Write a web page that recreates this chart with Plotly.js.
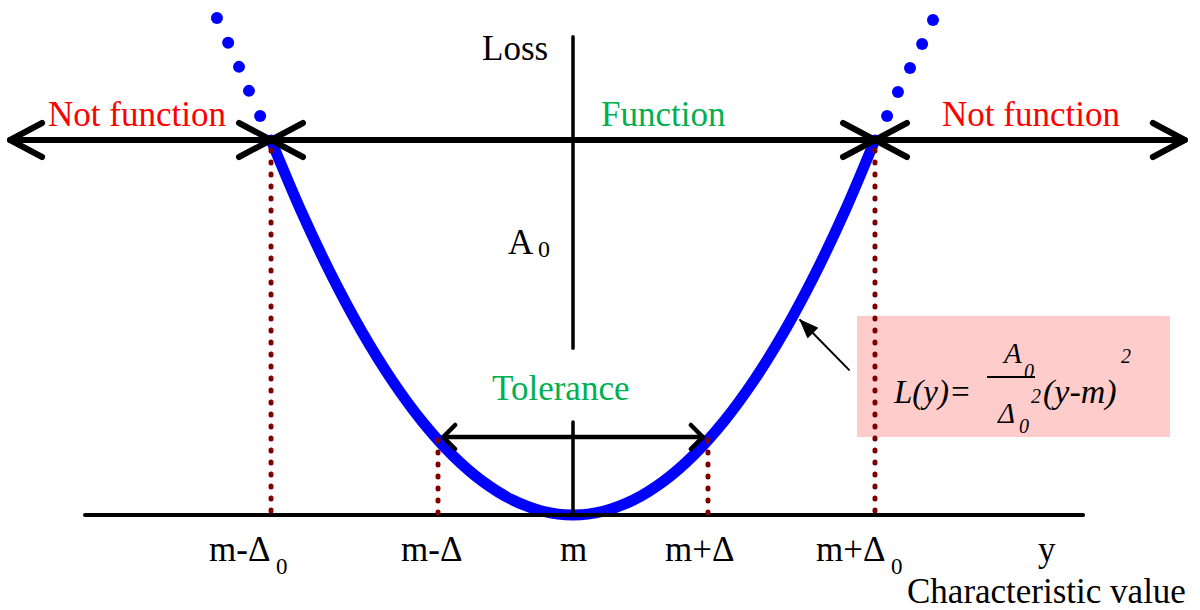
<!DOCTYPE html>
<html><head><meta charset="utf-8">
<script src="https://cdn.plot.ly/plotly-3.0.1.min.js"></script>
<style>
html,body{margin:0;padding:0;background:#fff;}
#chart{width:1200px;height:610px;}
#chart path.js-line{stroke-linecap:round !important;stroke-linejoin:round !important;}
</style></head><body><div id="chart"></div>
<script>
// Quality loss function: x in units of Δ0 measured from m, loss in units of A0
const m = 0;
const delta0 = 1;
const delta = 0.447;
const A0 = 1;

// parabola L(y) inside the functional range
const curveX = [-1.0,-0.9,-0.8,-0.7,-0.6,-0.5,-0.4,-0.3,-0.2,-0.1,0,0.1,0.2,0.3,0.4,0.5,0.6,0.7,0.8,0.9,1.0];
const curveY = [1.0,0.81,0.64,0.49,0.36,0.25,0.16,0.09,0.04,0.01,0,0.01,0.04,0.09,0.16,0.25,0.36,0.49,0.64,0.81,1.0];

// dotted continuation of the curve outside ±Δ0
const dotsLeftX  = [-1.179,-1.142,-1.106,-1.073,-1.036];
const dotsLeftY  = [1.325,1.259,1.195,1.131,1.064];
const dotsRightX = [1.040,1.076,1.116,1.156,1.192];
const dotsRightY = [1.064,1.128,1.192,1.256,1.320];

// axis extents
const baseLineX = [-1.616, 1.689];
const lossAxisLower = [0, 0.248];
const lossAxisUpper = [0.445, 1.275];

// function / not-function arrows at loss = A0
const functionArrowEnds = [-1.864, -delta0, delta0, 2.026];
// tolerance arrow
const toleranceArrowX = [-0.43, 0.43];
const toleranceLevel = 0.208;

// pointer to the curve (tail near the formula box, tip on the curve)
const pointerX = [0.914, 0.752];
const pointerY = [0.387, 0.52];

// guide positions and labels under the base line
const guideX = [-delta0, -delta, delta, delta0];
const labelX = [-0.993, -0.470, m, 0.4205, 1.043, 1.570];   // centre, or end of main text when subscripted
const labelMain = ['m-Δ','m-Δ','m','m+Δ','m+Δ','y'];
const labelSub  = ['0','','','','0',''];

const xRange = [-1.8974, 2.0762];
const yRange = [-0.2533, 1.3733];
const W = 1200, H = 610;
const pxU = W/(xRange[1]-xRange[0]);
const pxV = H/(yRange[1]-yRange[0]);
const FONT = 'Liberation Serif, Times New Roman, serif';

function P(px, py){ return {x: px/W, y: 1 - py/H}; }

function chevron(tipX, tipY, dir, back, half, width){
  const du = dir*back/pxU, dv = half/pxV;
  return {x:[tipX+du, tipX, tipX+du], y:[tipY+dv, tipY, tipY-dv], mode:'lines',
    line:{color:'#000', width:width}, hoverinfo:'skip', showlegend:false};
}
function seg(xs, ys, color, width, dash){
  return {x:xs, y:ys, mode:'lines', line:{color:color, width:width, dash:dash||'solid'},
    hoverinfo:'skip', showlegend:false};
}
function headTri(x0, y0, x1, y1, len, half){
  const dxp = (x1-x0)*pxU, dyp = (y1-y0)*pxV;
  const L = Math.hypot(dxp, dyp), ux = dxp/L, uy = dyp/L;
  const bx = -ux*len, by = -uy*len, nx = -uy*half, ny = ux*half;
  const xs = [x1, x1+(bx+nx)/pxU, x1+(bx-nx)/pxU, x1];
  const ys = [y1, y1+(by+ny)/pxV, y1+(by-ny)/pxV, y1];
  return {x:xs, y:ys, mode:'lines', fill:'toself', fillcolor:'#000', line:{color:'#000', width:1},
    hoverinfo:'skip', showlegend:false};
}

const traces = [];
traces.push({x:curveX, y:curveY.map(v=>v*A0), mode:'lines', line:{color:'#0000FF', width:11, shape:'spline'}, hoverinfo:'skip', showlegend:false});
traces.push({x:dotsLeftX.concat([null]).concat(dotsRightX), y:dotsLeftY.concat([null]).concat(dotsRightY), mode:'markers',
  marker:{color:'#0000FF', size:12}, hoverinfo:'skip', showlegend:false});
traces.push(seg(baseLineX, [0,0], '#000', 4));
traces.push(seg([m,m,null,m,m], [lossAxisLower[0],lossAxisLower[1],null,lossAxisUpper[0],lossAxisUpper[1]], '#000', 3.5));
guideX.forEach(g=>{
  const top = Math.abs(g)===delta0 ? 0.973*A0 : g*g*A0;
  traces.push(seg([g,g],[top,0],'#800000',5,'1px,11px'));
});
traces.push(seg([functionArrowEnds[0], functionArrowEnds[3]], [A0,A0], '#000', 6));
traces.push(chevron(functionArrowEnds[0], A0, 1, 32, 17, 6));
traces.push(chevron(functionArrowEnds[1], A0, -1, 32, 17, 6));
traces.push(chevron(functionArrowEnds[1], A0, 1, 32, 17, 6));
traces.push(chevron(functionArrowEnds[2], A0, -1, 32, 17, 6));
traces.push(chevron(functionArrowEnds[2], A0, 1, 32, 17, 6));
traces.push(chevron(functionArrowEnds[3], A0, -1, 32, 17, 6));
traces.push(seg(toleranceArrowX, [toleranceLevel,toleranceLevel], '#000', 4.5));
traces.push(chevron(toleranceArrowX[0], toleranceLevel, 1, 12, 12, 4.5));
traces.push(chevron(toleranceArrowX[1], toleranceLevel, -1, 12, 12, 4.5));
traces.push(seg(pointerX, pointerY, '#000', 2));
traces.push(headTri(pointerX[0], pointerY[0], pointerX[1], pointerY[1], 18, 7));

function txt(px, py, text, size, color, opts){
  const p = P(px, py);
  const o = opts || {};
  return {xref:'paper', yref:'paper', x:p.x, y:p.y, text:text, showarrow:false,
    xanchor:o.xanchor||'center', yanchor:'middle',
    font:{family:FONT, size:size, color:color, style:o.italic?'italic':'normal'}};
}

const annotations = [
  txt(137, 115, 'Not function', 35, '#FF0000'),
  txt(1031, 115, 'Not function', 35, '#FF0000'),
  txt(663, 115, 'Function', 35, '#00B050'),
  txt(560, 388, 'Tolerance', 35, '#00B050'),
  txt(515, 48, 'Loss', 35, '#000'),
  txt(536, 243, 'A', 35, '#000', {xanchor:'right'}),
  txt(536, 249, '0', 24, '#000', {xanchor:'left'}),
  txt(1188, 591, 'Characteristic value', 35, '#000', {xanchor:'right'}),
  // formula
  txt(932, 392, 'L(y)=', 33, '#000', {italic:true}),
  txt(1012, 353, 'A', 29, '#000', {italic:true}),
  txt(1029, 371, '0', 20, '#000', {italic:true}),
  txt(1006, 413, 'Δ', 29, '#000', {italic:true}),
  txt(1024, 426, '0', 20, '#000', {italic:true}),
  txt(1036, 396, '2', 20, '#000', {italic:true}),
  txt(1080, 392, '(y-m)', 34, '#000', {italic:true}),
  txt(1126, 356, '2', 20, '#000', {italic:true})
];
labelX.forEach((lx,i)=>{
  const hasSub = !!labelSub[i];
  annotations.push({xref:'x', yref:'y', x:lx, y:-0.093, xshift:hasSub?-1:0, text:labelMain[i], showarrow:false,
    xanchor:hasSub?'right':'center', yanchor:'middle', font:{family:FONT, size:35, color:'#000'}});
  if(hasSub){
    annotations.push({xref:'x', yref:'y', x:lx, y:-0.093, xshift:1, yshift:-17, text:labelSub[i], showarrow:false,
      xanchor:'left', yanchor:'middle', font:{family:FONT, size:23, color:'#000'}});
  }
});

const b1 = P(857,316), b2 = P(1170,437), f1 = P(987,377), f2 = P(1035,377);
const shapes = [
  {type:'rect', xref:'paper', yref:'paper', x0:b1.x, y0:b2.y, x1:b2.x, y1:b1.y, fillcolor:'#FFCCCC', line:{width:0}, layer:'below'},
  {type:'line', xref:'paper', yref:'paper', x0:f1.x, y0:f1.y, x1:f2.x, y1:f2.y, line:{color:'#000', width:2}}
];

const layout = {
  width:W, height:H, margin:{l:0,r:0,t:0,b:0}, paper_bgcolor:'#fff', plot_bgcolor:'rgba(0,0,0,0)',
  xaxis:{range:xRange, visible:false, fixedrange:true},
  yaxis:{range:yRange, visible:false, fixedrange:true},
  showlegend:false, annotations:annotations, shapes:shapes
};
Plotly.newPlot('chart', traces, layout, {staticPlot:true, displayModeBar:false});
</script></body></html>
